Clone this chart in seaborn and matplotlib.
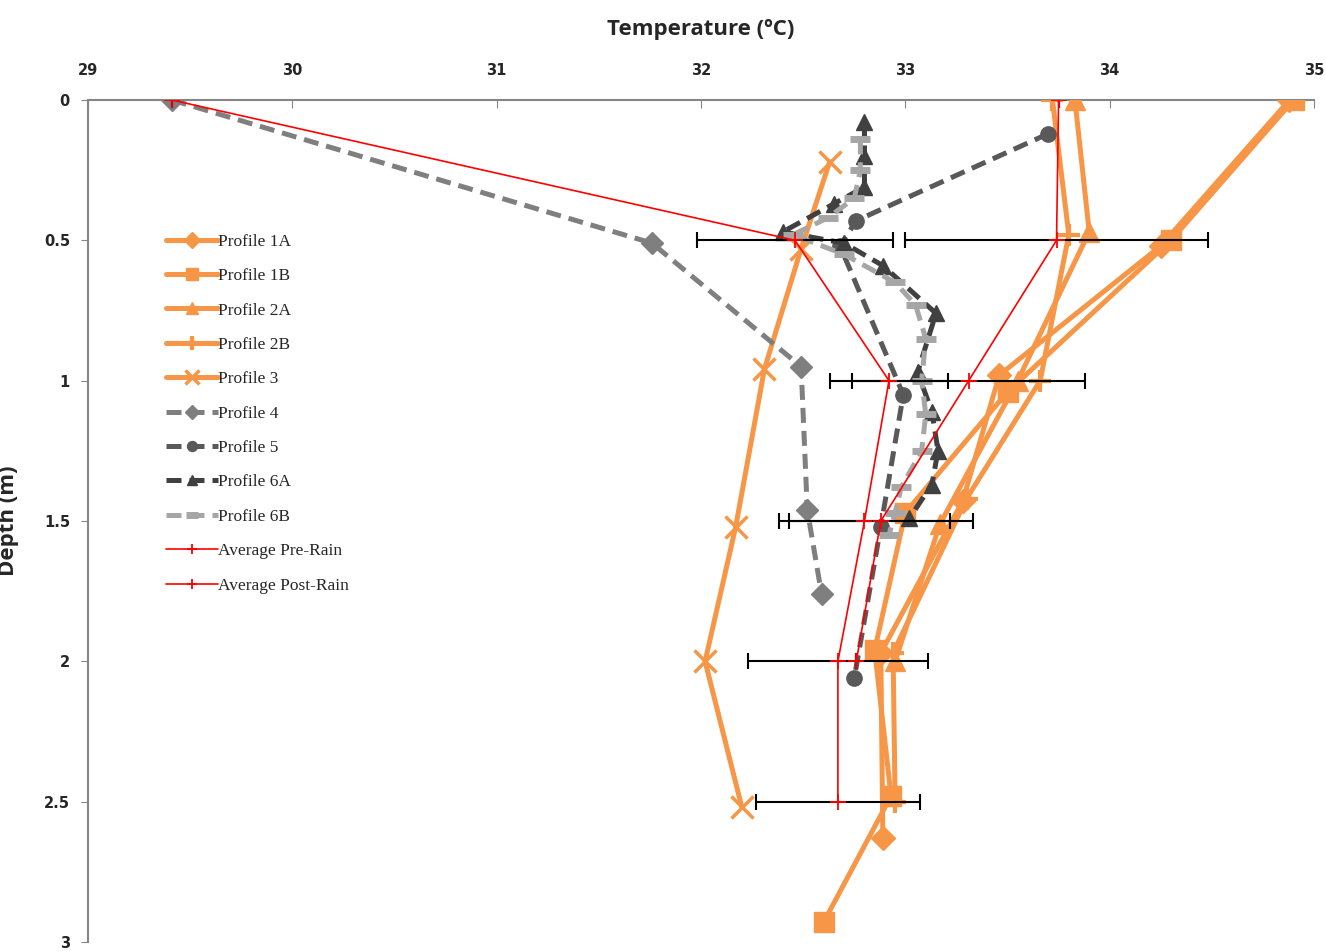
import matplotlib
matplotlib.use("Agg")
import matplotlib.pyplot as plt
import seaborn as sns
import pandas as pd

# profile data: depth (m) and temperature (deg C)
p1a_depth = [0, 0.52, 0.98, 1.43, 1.97, 2.63]
p1a_temp = [34.88, 34.25, 33.46, 33.28, 32.88, 32.89]
p1b_depth = [0, 0.5, 1.04, 1.47, 1.96, 2.48, 2.93]
p1b_temp = [34.9, 34.3, 33.5, 33.0, 32.85, 32.93, 32.6]
p2a_depth = [0, 0.47, 1.0, 1.51, 2.0]
p2a_temp = [33.83, 33.9, 33.55, 33.17, 32.95]
p2b_depth = [0, 0.48, 1.0, 1.42, 1.97, 2.5]
p2b_temp = [33.72, 33.8, 33.66, 33.3, 32.94, 32.95]
p3_depth = [0.22, 0.53, 0.96, 1.52, 2.0, 2.52]
p3_temp = [32.63, 32.49, 32.31, 32.17, 32.02, 32.2]
p4_depth = [0, 0.51, 0.95, 1.46, 1.76]
p4_temp = [29.41, 31.76, 32.49, 32.52, 32.59]
p5_depth = [0.12, 0.43, 0.52, 1.05, 1.52, 2.06]
p5_temp = [33.7, 32.76, 32.68, 32.99, 32.88, 32.75]
p6a_depth = [0.08, 0.2, 0.31, 0.37, 0.47, 0.51, 0.59, 0.76, 0.97, 1.11, 1.25, 1.37, 1.49]
p6a_temp = [32.8, 32.8, 32.8, 32.65, 32.4, 32.7, 32.89, 33.15, 33.06, 33.13, 33.16, 33.13, 33.02]
p6b_depth = [0.14, 0.25, 0.35, 0.42, 0.48, 0.55, 0.65, 0.73, 0.85, 1.0, 1.12, 1.25, 1.38, 1.47, 1.55]
p6b_temp = [32.78, 32.78, 32.75, 32.62, 32.45, 32.7, 32.95, 33.05, 33.1, 33.08, 33.1, 33.08, 32.98, 32.95, 32.92]

# averages and their spread
pre_depth = [0, 0.5, 1.0, 1.5, 2.0, 2.5]
pre_temp = [29.41, 32.46, 32.92, 32.8, 32.67, 32.67]
pre_err = [0, 0.48, 0.29, 0.42, 0.44, 0.40]
post_depth = [0, 0.5, 1.0, 1.5, 2.0]
post_temp = [33.75, 33.74, 33.31, 32.88, 32.76]
post_err = [0, 0.74, 0.57, 0.45, 0]

orange = "#F79646"
dash = (0, (3, 1.6))
profiles = [
    ("Profile 1A", p1a_temp, p1a_depth, dict(color=orange, marker="D", ms=12, ls="-")),
    ("Profile 1B", p1b_temp, p1b_depth, dict(color=orange, marker="s", ms=14, ls="-")),
    ("Profile 2A", p2a_temp, p2a_depth, dict(color=orange, marker="^", ms=14, ls="-")),
    ("Profile 2B", p2b_temp, p2b_depth, dict(color=orange, marker="+", ms=16, mew=3, ls="-")),
    ("Profile 3", p3_temp, p3_depth, dict(color=orange, marker="x", ms=16, mew=2.5, ls="-")),
    ("Profile 4", p4_temp, p4_depth, dict(color="#7F7F7F", marker="D", ms=11, ls=dash)),
    ("Profile 5", p5_temp, p5_depth, dict(color="#595959", marker="o", ms=11, ls=dash)),
    ("Profile 6A", p6a_temp, p6a_depth, dict(color="#404040", marker="^", ms=11, ls=dash)),
    ("Profile 6B", p6b_temp, p6b_depth, dict(color="#A6A6A6", marker="_", ms=14, mew=5, ls=dash)),
]

sns.set_style("white")
fig, ax = plt.subplots(figsize=(13.26, 9.52), dpi=100)
fig.subplots_adjust(left=88 / 1326, right=1314 / 1326, top=1 - 100 / 952, bottom=1 - 942 / 952)

for name, temps, depths, style in profiles:
    style.setdefault("mew", 1)
    df = pd.DataFrame({"temp": temps, "depth": depths})
    sns.lineplot(data=df, x="temp", y="depth", sort=False, estimator=None, ax=ax,
                 label=name, zorder=3, lw=3.6, mec=style["color"], **style)

# average profiles with black error bars
ax.errorbar(pre_temp, pre_depth, xerr=pre_err, fmt="none", ecolor="black", elinewidth=1.5,
            capsize=6, capthick=1.5, zorder=4)
ax.errorbar(post_temp, post_depth, xerr=post_err, fmt="none", ecolor="black", elinewidth=1.5,
            capsize=6, capthick=1.5, zorder=4)
pre_df = pd.DataFrame({"temp": pre_temp, "depth": pre_depth})
post_df = pd.DataFrame({"temp": post_temp, "depth": post_depth})
for df, name in [(pre_df, "Average Pre-Rain"), (post_df, "Average Post-Rain")]:
    sns.lineplot(data=df, x="temp", y="depth", sort=False, estimator=None, ax=ax, color="red",
                 lw=1.2, marker="+", ms=12, mew=1.3, mec="red", label=name, zorder=5)

ax.set_xlim(29, 35)
ax.set_ylim(3, 0)
ax.xaxis.tick_top()
ax.xaxis.set_label_position("top")
ax.set_xticks([29, 30, 31, 32, 33, 34, 35])
ax.set_yticks([0, 0.5, 1, 1.5, 2, 2.5, 3])
ax.set_yticklabels(["0", "0.5", "1", "1.5", "2", "2.5", "3"])
ax.tick_params(axis="x", direction="in", length=6, color="#868686", pad=16)
ax.tick_params(axis="y", direction="out", length=5, color="#868686", left=True, pad=8)
for lab in ax.get_xticklabels() + ax.get_yticklabels():
    lab.set_family(["Liberation Sans Narrow", "DejaVu Sans"])
    lab.set_fontweight("bold")
    lab.set_fontsize(10.5)
for side in ["right", "bottom"]:
    ax.spines[side].set_visible(False)
for side in ["top", "left"]:
    ax.spines[side].set_color("#868686")
    ax.spines[side].set_linewidth(1.5)

ax.set_xlabel("Temperature (ºC)", fontsize=16, fontweight="bold", family="Open Sans", labelpad=20)
ax.set_ylabel("Depth (m)", fontsize=16, fontweight="bold", family="Open Sans", labelpad=18)

leg = ax.legend(loc="upper left", bbox_to_anchor=(150 / 1326, 1 - 218 / 952),
                bbox_transform=fig.transFigure, frameon=False, handlelength=3.0,
                handletextpad=0.0, labelspacing=1.05, markerscale=0.65,
                prop={"family": "Liberation Serif", "size": 12.5})

plt.savefig("out.png", dpi=100)
